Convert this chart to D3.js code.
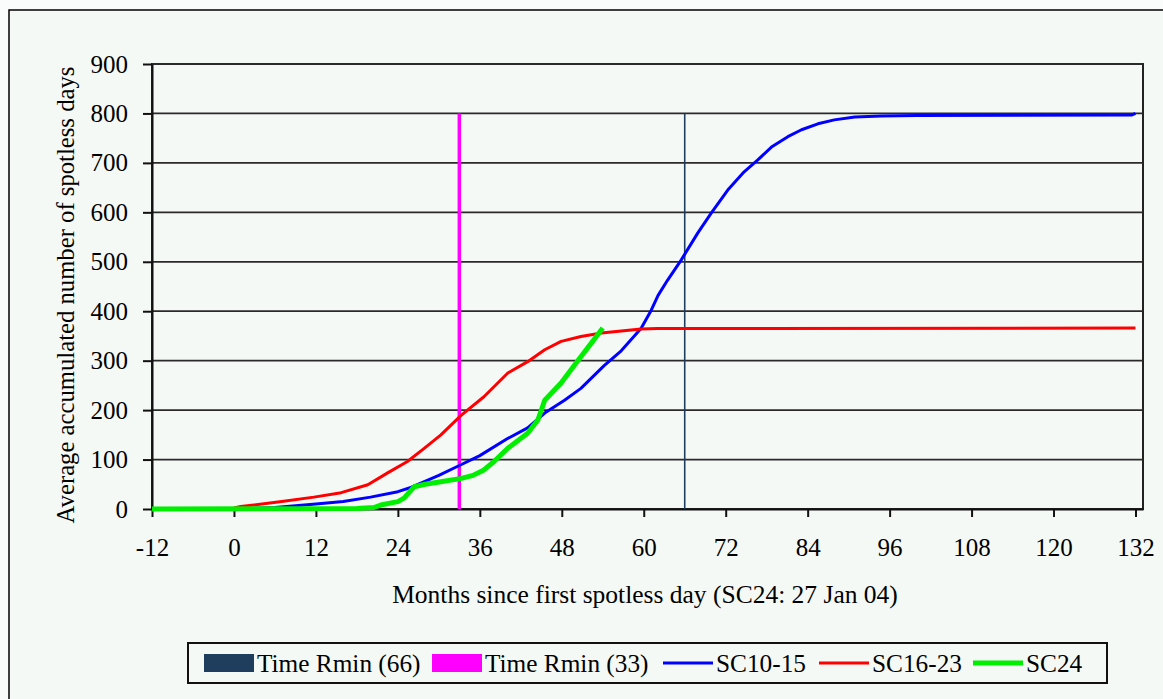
<!DOCTYPE html>
<html>
<head>
<meta charset="utf-8">
<script src="https://cdn.jsdelivr.net/npm/d3@7/dist/d3.min.js"></script>
<style>
  html, body { margin: 0; padding: 0; background: #fafcfb; }
  svg { display: block; }
  text { font-family: "Liberation Serif", "Times New Roman", serif; fill: #000; }
</style>
</head>
<body>
<svg id="chart" width="1163" height="699"></svg>
<script>
// ---- data ----
const xTicks = [-12, 0, 12, 24, 36, 48, 60, 72, 84, 96, 108, 120, 132];
const yTicks = [0, 100, 200, 300, 400, 500, 600, 700, 800, 900];

const sc1015Months = [-12, 0, 6, 12, 16, 20, 24, 26, 30, 33, 36, 40, 43, 45.5, 48.4, 50.8, 54.2, 56.7, 59.6, 61.1, 62.1, 63.5, 65.5, 67.9, 69.9, 72.3, 74.7, 76.7, 78.7, 81.1, 83.1, 85.5, 87.9, 90.9, 94.8, 100, 131.5, 132];
const sc1015Values = [0, 0, 3, 10, 15, 24, 35, 44, 68, 88, 108, 142, 164, 194, 220, 244, 290, 320, 365, 402, 432, 463, 504, 558, 599, 645, 682, 706, 732, 753, 767, 779, 787, 793, 795, 796, 797, 800];

const sc1623Months = [0, 1, 7, 11.7, 15.7, 19.6, 22.5, 25.4, 27.9, 30.3, 33.3, 36.6, 40.1, 43, 45.5, 47.9, 50.8, 53.8, 56.7, 59.6, 62, 132];
const sc1623Values = [2, 5, 15, 24, 33, 49, 73, 96, 123, 150, 190, 227, 275, 298, 322, 339, 349, 356, 360, 364, 365, 366];

const sc24Months = [-12, 18, 20.5, 21.5, 24, 24.9, 26.4, 28, 30.3, 33.3, 35, 36.6, 38, 40.1, 43, 44.5, 45.5, 47.9, 50.4, 52.3, 54];
const sc24Values = [0, 1, 3, 8, 15, 22, 45, 50, 55, 62, 68, 79, 95, 123, 153, 180, 220, 255, 301, 335, 366];

const rminMonths = [66, 33];
const rminHeight = 800;

const legendLabels = ["Time Rmin (66)", "Time Rmin (33)", "SC10-15", "SC16-23", "SC24"];
const colors = { r66: "#1f3d5c", r33: "#ff00ff", sc1015: "#0000ff", sc1623: "#ff0000", sc24: "#00ee00" };

// ---- layout ----
const svg = d3.select("#chart");
const L = 152, R = 1143, T = 64, B = 509;
const x = d3.scaleLinear().domain([-12, 133.1]).range([L, R]);
const y = d3.scaleLinear().domain([0, 900]).range([B, T]);

// outer border
svg.append("rect").attr("x", 9).attr("y", 10).attr("width", 1170).attr("height", 700)
  .attr("fill", "#f5f9f6").attr("stroke", "#000").attr("stroke-width", 1.5);

// plot area
svg.append("rect").attr("x", L).attr("y", T).attr("width", R - L).attr("height", B - T)
  .attr("fill", "#f5f9f6").attr("stroke", "#222").attr("stroke-width", 2);

// gridlines
svg.append("g").selectAll("line").data(yTicks.filter(d => d > 0)).join("line")
  .attr("x1", L).attr("x2", R).attr("y1", d => y(d)).attr("y2", d => y(d))
  .attr("stroke", "#2a2a2a").attr("stroke-width", 1.8);

// axes
const fmt = d => String(d);
const yAxis = svg.append("g").attr("transform", `translate(${L},0)`)
  .call(d3.axisLeft(y).tickValues(yTicks).tickFormat(fmt).tickSize(9).tickPadding(15).tickSizeOuter(0));
const xAxis = svg.append("g").attr("transform", `translate(0,${B})`)
  .call(d3.axisBottom(x).tickValues(xTicks).tickFormat(fmt).tickSize(8).tickPadding(21).tickSizeOuter(0));
[yAxis, xAxis].forEach(g => {
  g.select(".domain").attr("stroke", "#111").attr("stroke-width", 2);
  g.selectAll(".tick line").attr("stroke", "#111").attr("stroke-width", 2);
  g.selectAll(".tick text").attr("font-size", 25).attr("font-family", "Liberation Serif");
});

// vertical Rmin lines
svg.append("line").attr("x1", x(rminMonths[0])).attr("x2", x(rminMonths[0]))
  .attr("y1", y(0)).attr("y2", y(rminHeight)).attr("stroke", colors.r66).attr("stroke-width", 1.6);
svg.append("line").attr("x1", x(rminMonths[1])).attr("x2", x(rminMonths[1]))
  .attr("y1", y(0)).attr("y2", y(rminHeight)).attr("stroke", colors.r33).attr("stroke-width", 3.5);

// series lines
const line = d3.line().x(d => x(d[0])).y(d => y(d[1]));
function drawSeries(ms, vs, color, w) {
  svg.append("path").datum(ms.map((m, i) => [m, vs[i]]))
    .attr("d", line).attr("fill", "none").attr("stroke", color)
    .attr("stroke-width", w).attr("stroke-linejoin", "round");
}
drawSeries(sc1015Months, sc1015Values, colors.sc1015, 3);
drawSeries(sc1623Months, sc1623Values, colors.sc1623, 3);
drawSeries(sc24Months, sc24Values, colors.sc24, 5);

// axis titles
svg.append("text").attr("x", 645).attr("y", 603).attr("text-anchor", "middle")
  .attr("font-size", 25.5).text("Months since first spotless day (SC24: 27 Jan 04)");
svg.append("text").attr("transform", "translate(74,295) rotate(-90)").attr("text-anchor", "middle")
  .attr("font-size", 24.7).text("Average accumulated number of spotless days");

// legend
const lg = svg.append("g");
lg.append("rect").attr("x", 188).attr("y", 643).attr("width", 919).attr("height", 40)
  .attr("fill", "#f5f9f6").attr("stroke", "#111").attr("stroke-width", 2);
const items = [
  { type: "rect", color: colors.r66, sx: 204, tx: 257 },
  { type: "rect", color: colors.r33, sx: 432, tx: 485 },
  { type: "line", color: colors.sc1015, sx: 663, tx: 716, w: 3 },
  { type: "line", color: colors.sc1623, sx: 819, tx: 872, w: 3 },
  { type: "line", color: colors.sc24, sx: 973, tx: 1026, w: 5 }
];
items.forEach((it, i) => {
  if (it.type === "rect") {
    lg.append("rect").attr("x", it.sx).attr("y", 654).attr("width", 50).attr("height", 18)
      .attr("fill", it.color);
  } else {
    lg.append("line").attr("x1", it.sx).attr("x2", it.sx + 50).attr("y1", 663).attr("y2", 663)
      .attr("stroke", it.color).attr("stroke-width", it.w);
  }
  lg.append("text").attr("x", it.tx).attr("y", 672).attr("font-size", 25.3).text(legendLabels[i]);
});
</script>
</body>
</html>
